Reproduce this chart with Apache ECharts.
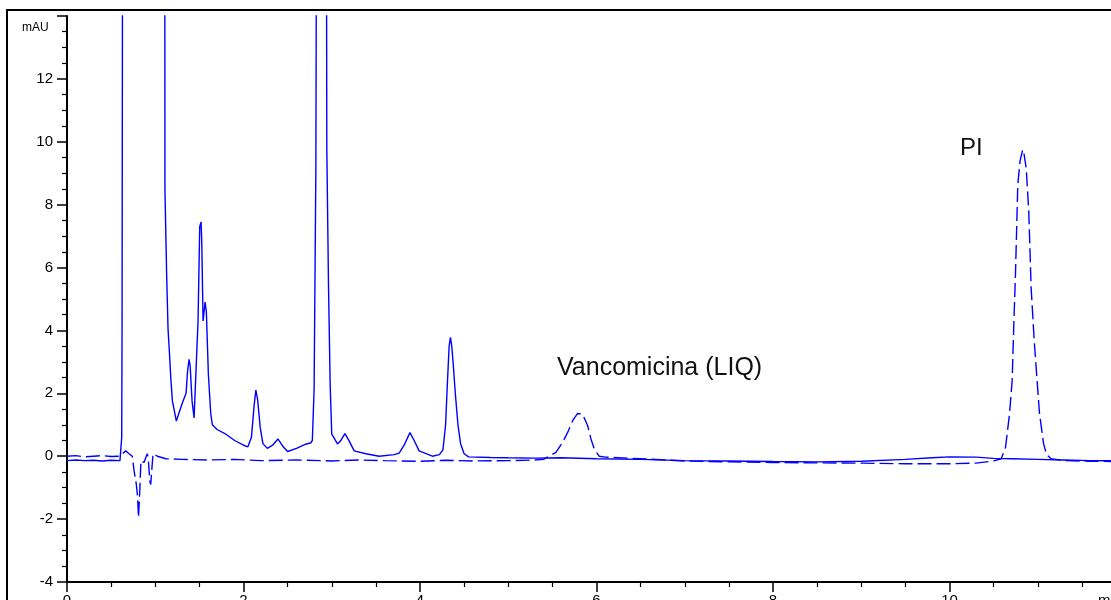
<!DOCTYPE html>
<html>
<head>
<meta charset="utf-8">
<script src="https://cdn.jsdelivr.net/npm/echarts@6/dist/echarts.min.js"></script>
<style>
html,body{margin:0;padding:0;background:#fff;}
#chart{width:1111px;height:600px;}
</style>
</head>
<body>
<div id="chart"></div>
<script>
// Sample chromatogram (solid trace): time (min) and signal (mAU)
const solidTime = [0,0.1,0.2,0.3,0.4,0.5,0.6,0.609,0.62,0.624,0.635,0.8,1.0,1.105,1.11,1.13,1.145,1.164,1.176,1.194,1.239,1.304,1.349,1.366,1.383,1.395,1.406,1.417,1.44,1.459,1.485,1.504,1.519,1.527,1.542,1.565,1.579,1.602,1.629,1.647,1.7,1.8,1.9,2.0,2.05,2.09,2.12,2.14,2.16,2.19,2.22,2.27,2.33,2.39,2.45,2.5,2.6,2.7,2.76,2.78,2.8,2.82,2.838,2.88,2.933,2.944,2.963,2.982,3.0,3.065,3.1,3.149,3.197,3.254,3.387,3.537,3.707,3.764,3.82,3.886,3.934,3.99,4.14,4.22,4.26,4.29,4.31,4.33,4.345,4.36,4.38,4.4,4.43,4.46,4.5,4.55,4.8,5.0,5.3,5.6,6.0,6.5,7.0,7.5,8.0,8.5,9.0,9.5,9.8,10.0,10.3,10.5,10.7,11.0,11.3,11.6,12.0];
const solidSignal = [-0.14,-0.12,-0.14,-0.13,-0.15,-0.13,-0.14,-0.14,0.6,4.2,30,80,70,30,8.46,5.67,4.05,3.13,2.5,1.76,1.12,1.67,2.0,2.7,3.08,2.9,2.33,1.76,1.22,1.19,4.3,7.3,7.45,6.84,4.3,4.9,4.6,2.6,1.35,1.0,0.85,0.7,0.5,0.35,0.3,0.6,1.6,2.1,1.8,0.9,0.4,0.25,0.35,0.55,0.3,0.15,0.25,0.38,0.42,0.5,2.13,9.17,30,40,30,9.8,5.47,2.29,0.7,0.39,0.49,0.72,0.49,0.17,0.08,0.0,0.05,0.1,0.35,0.75,0.5,0.17,0.0,0.05,0.2,1.0,2.3,3.5,3.78,3.5,2.8,2.0,1.0,0.4,0.08,-0.02,-0.04,-0.05,-0.06,-0.05,-0.08,-0.1,-0.14,-0.15,-0.17,-0.18,-0.16,-0.1,-0.05,-0.02,-0.03,-0.07,-0.08,-0.1,-0.12,-0.14,-0.15];

// Standard chromatogram (dashed trace): Vancomicina (LIQ) and PI
const dashedTime = [0,0.1,0.2,0.3,0.4,0.5,0.6,0.62,0.665,0.703,0.74,0.76,0.786,0.8,0.81,0.818,0.826,0.838,0.873,0.892,0.91,0.921,0.938,0.949,0.96,0.975,0.986,1.024,1.12,1.3,1.6,1.9,2.2,2.6,3.0,3.3,3.6,4.0,4.3,4.6,5.0,5.3,5.4,5.465,5.54,5.616,5.68,5.73,5.786,5.805,5.842,5.9,5.937,5.975,6.03,6.1,6.5,7.0,7.5,8.0,8.5,9.0,9.5,10.0,10.3,10.5,10.586,10.635,10.68,10.71,10.73,10.748,10.774,10.8,10.83,10.845,10.869,10.898,10.925,10.96,10.99,11.02,11.066,11.1,11.153,11.3,11.6,12.0];
const dashedSignal = [0.0,0.02,-0.02,0.0,0.02,-0.01,0.0,0.02,0.17,0.08,0.0,-0.46,-0.9,-1.3,-1.95,-1.5,-1.0,-0.14,-0.2,-0.05,0.08,-0.08,-0.78,-0.9,-0.46,0.08,0.1,0.0,-0.08,-0.1,-0.12,-0.1,-0.14,-0.12,-0.15,-0.12,-0.14,-0.16,-0.13,-0.15,-0.14,-0.12,-0.1,0.0,0.12,0.44,0.8,1.13,1.36,1.42,1.34,0.97,0.55,0.23,0.0,-0.03,-0.08,-0.15,-0.18,-0.2,-0.21,-0.22,-0.24,-0.24,-0.22,-0.15,-0.08,0.28,1.35,2.4,4.3,5.83,8.65,9.4,9.75,9.6,9.17,7.8,5.36,3.67,2.5,1.35,0.4,0.05,-0.08,-0.14,-0.16,-0.17];

const xTicks = [0,2,4,6,8,10];
const yTicks = [-4,-2,0,2,4,6,8,10,12];

const zip = (a, b) => a.map((t, i) => [t, b[i]]);

const chart = echarts.init(document.getElementById('chart'), null, {renderer: 'canvas'});
const tickFont = {color: '#000', fontSize: 15, fontFamily: 'Liberation Sans, Arial, sans-serif'};
chart.setOption({
  animation: false,
  backgroundColor: '#fff',
  grid: {left: 67, right: -15, top: 16, bottom: 18, containLabel: false, outerBoundsMode: 'none'},
  xAxis: {
    type: 'value', min: 0, max: 12, interval: 2,
    axisLine: {show: true, onZero: false, lineStyle: {color: '#000', width: 2}},
    axisTick: {show: true, inside: false, length: 10, lineStyle: {color: '#000', width: 1.5}},
    minorTick: {show: true, splitNumber: 4, length: 5, lineStyle: {color: '#000', width: 1.2}},
    splitLine: {show: false},
    axisLabel: Object.assign({margin: 11, formatter: v => xTicks.includes(v) ? String(v) : ''}, tickFont)
  },
  yAxis: {
    type: 'value', min: -4, max: 14, interval: 2,
    axisLine: {show: true, onZero: false, lineStyle: {color: '#000', width: 2}},
    axisTick: {show: true, inside: false, length: 10, lineStyle: {color: '#000', width: 1.5}},
    minorTick: {show: true, splitNumber: 4, length: 5, lineStyle: {color: '#000', width: 1.2}},
    splitLine: {show: false},
    axisLabel: Object.assign({margin: 14, formatter: v => yTicks.includes(v) ? String(v) : ''}, tickFont)
  },
  series: [
    {
      name: 'Muestra', type: 'line', data: zip(solidTime, solidSignal),
      showSymbol: false, symbol: 'none', clip: true,
      lineStyle: {color: '#0000ff', width: 1.4}
    },
    {
      name: 'Estándar', type: 'line', data: zip(dashedTime, dashedSignal),
      showSymbol: false, symbol: 'none', clip: true,
      lineStyle: {color: '#0000ff', width: 1.4, type: [14, 5]}
    }
  ],
  graphic: [
    {type: 'rect', silent: true, shape: {x: 7, y: 10, width: 1130, height: 620},
     style: {fill: 'none', stroke: '#000', lineWidth: 2}},
    {type: 'text', left: 22, top: 22,
     style: {text: 'mAU', fill: '#000', font: '12px "Liberation Sans", Arial, sans-serif'}},
    {type: 'text', left: 1098, top: 593,
     style: {text: 'min', fill: '#000', font: '15px "Liberation Sans", Arial, sans-serif'}},
    {type: 'text', left: 557, top: 356,
     style: {text: 'Vancomicina (LIQ)', fill: '#111', font: '25px "Liberation Sans", Arial, sans-serif'}},
    {type: 'text', left: 960, top: 136,
     style: {text: 'PI', fill: '#111', font: '24px "Liberation Sans", Arial, sans-serif'}}
  ]
});
</script>
</body>
</html>
